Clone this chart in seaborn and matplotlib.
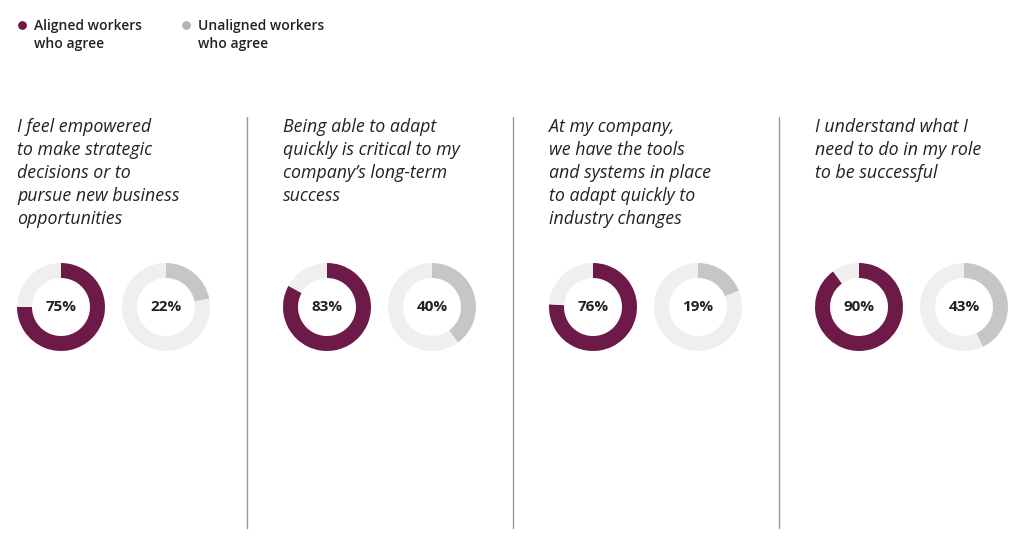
import matplotlib.pyplot as plt
import seaborn as sns

# data
statements = [
    "I feel empowered\nto make strategic\ndecisions or to\npursue new business\nopportunities",
    "Being able to adapt\nquickly is critical to my\ncompany\u2019s long-term\nsuccess",
    "At my company,\nwe have the tools\nand systems in place\nto adapt quickly to\nindustry changes",
    "I understand what I\nneed to do in my role\nto be successful",
]
aligned_pct = [75, 83, 76, 90]
unaligned_pct = [22, 40, 19, 43]
series_labels = ["Aligned workers\nwho agree", "Unaligned workers\nwho agree"]

PURPLE = "#6e1a49"
GREY = "#c6c6c6"
TRACK = "#efefef"
TEXT = "#222222"

sns.set_theme(style="white")
plt.rcParams["font.family"] = ["Open Sans", "DejaVu Sans"]

W, H = 1024, 548
fig = plt.figure(figsize=(W / 100, H / 100), dpi=100)
ax = fig.add_axes([0, 0, 1, 1])


def Y(ypix):
    return H - ypix


# legend
for i, lab in enumerate(series_labels):
    x0 = 22 + i * 164
    ax.scatter([x0], [Y(25)], s=28, color=[PURPLE, "#b3b3b3"][i], zorder=3)
    ax.text(x0 + 12, Y(35), lab, fontsize=10, color=TEXT, va="center",
            linespacing=1.3, fontweight="semibold")

panel_w = 266
for i, (txt, a, u) in enumerate(zip(statements, aligned_pct, unaligned_pct)):
    px = i * panel_w
    ax.text(px + 17, Y(118), txt, fontsize=12.8, style="italic", color=TEXT,
            va="top", ha="left", linespacing=1.35)
    for j, (val, col) in enumerate([(a, PURPLE), (u, GREY)]):
        cx = px + 61 + j * 105
        cy = Y(307)
        ax.pie([val, 100 - val], colors=[col, TRACK], startangle=90,
               counterclock=False, radius=44, center=(cx, cy),
               wedgeprops=dict(width=15, edgecolor="none"))
        ax.text(cx, cy, f"{val}%", ha="center", va="center", fontsize=11,
                fontweight="bold", color=TEXT)
    if i > 0:
        ax.plot([px - 19, px - 19], [Y(117), Y(528)], color="#9a9a9a", lw=1)

ax.set_xlim(0, W)
ax.set_ylim(0, H)
ax.set_aspect("equal")
ax.axis("off")

fig.savefig("out.png", dpi=100, facecolor="white")
